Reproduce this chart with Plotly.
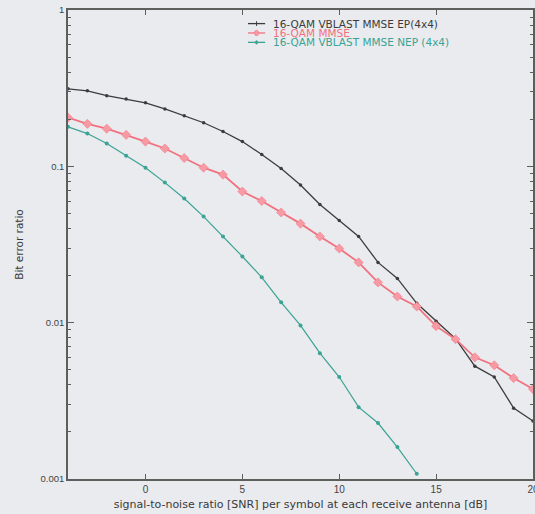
import plotly.graph_objects as go

# ---- data ----
snr_db = [-4, -3, -2, -1, 0, 1, 2, 3, 4, 5, 6, 7, 8, 9, 10, 11, 12, 13, 14, 15, 16, 17, 18, 19, 20]
ber_vblast_ep = [0.313, 0.304, 0.283, 0.270, 0.255, 0.233, 0.211, 0.190, 0.167, 0.144, 0.119, 0.097,
                 0.076, 0.057, 0.045, 0.0356, 0.0243, 0.0192, 0.0133, 0.0102, 0.0079, 0.00527,
                 0.00449, 0.00284, 0.00235]
ber_mmse = [0.205, 0.187, 0.174, 0.159, 0.144, 0.130, 0.113, 0.098, 0.0885, 0.069, 0.060, 0.0507,
            0.043, 0.0356, 0.0298, 0.0243, 0.0181, 0.0147, 0.0127, 0.0095, 0.00784, 0.0060,
            0.00534, 0.00442, 0.00376]
snr_db_nep = [-4, -3, -2, -1, 0, 1, 2, 3, 4, 5, 6, 7, 8, 9, 10, 11, 12, 13, 14]
ber_vblast_nep = [0.179, 0.162, 0.140, 0.117, 0.098, 0.0787, 0.0622, 0.0477, 0.0356, 0.0265, 0.0195,
                  0.0135, 0.0096, 0.00638, 0.00449, 0.00288, 0.00228, 0.0016, 0.00108]

series_names = ["16-QAM VBLAST MMSE EP(4x4)", "16-QAM MMSE", "16-QAM VBLAST MMSE NEP (4x4)"]
y_tick_vals = [0.001, 0.01, 0.1, 1]
y_tick_text = ["0.001", "0.01", "0.1", "1"]
x_tick_vals = [0, 5, 10, 15, 20]
x_tick_text = ["0", "5", "10", "15", "20"]
x_title = "signal-to-noise ratio [SNR] per symbol at each receive antenna [dB]"
y_title = "Bit error ratio"

# ---- styles ----
BG = "#e9ebef"
AXIS = "#5b605c"
C_EP = "#3c3c3c"
C_MMSE = "#f2717f"
C_MMSE_MK = "#f79aa4"
C_NEP = "#3aa394"
FONT = "Liberation Sans, Arial, sans-serif"
FONT_WIDE = "DejaVu Sans, Liberation Sans, sans-serif"

fig = go.Figure()
fig.add_trace(go.Scatter(x=snr_db, y=ber_vblast_ep, mode="lines+markers", name=series_names[0],
                         line=dict(color=C_EP, width=1.3),
                         marker=dict(symbol="circle", size=3.5, color=C_EP)))
fig.add_trace(go.Scatter(x=snr_db, y=ber_mmse, mode="lines+markers", name=series_names[1],
                         line=dict(color=C_MMSE, width=1.8),
                         marker=dict(symbol="diamond", size=7, color=C_MMSE_MK,
                                     line=dict(color=C_MMSE, width=0.5))))
fig.add_trace(go.Scatter(x=snr_db_nep, y=ber_vblast_nep, mode="lines+markers", name=series_names[2],
                         line=dict(color=C_NEP, width=1.2),
                         marker=dict(symbol="circle", size=4, color=C_NEP)))

# minor tick positions on the log axis (2..9 within each decade)
minor_vals = [m * 10 ** e for e in (-3, -2, -1) for m in range(2, 10)]

fig.update_layout(
    width=535, height=514,
    margin=dict(l=68, r=2, t=10, b=35),
    paper_bgcolor=BG, plot_bgcolor=BG,
    showlegend=False,
    font=dict(family=FONT, color="#333333", size=10),
    xaxis=dict(range=[-4, 20], showgrid=False, zeroline=False, automargin=False,
               showline=True, linecolor=AXIS, linewidth=1.5, mirror="allticks",
               ticks="inside", ticklen=5, tickcolor=AXIS, tickwidth=1,
               tickmode="array", tickvals=x_tick_vals, ticktext=x_tick_text,
               ticklabeloverflow="allow",
               tickfont=dict(size=10, color="#444444"),
               title=dict(text=x_title, font=dict(size=11, color="#3a3a3a", family=FONT_WIDE),
                          standoff=7)),
    yaxis=dict(type="log", range=[-3, 0], showgrid=False, zeroline=False, automargin=False,
               showline=True, linecolor=AXIS, linewidth=1.5, mirror="allticks",
               ticks="inside", ticklen=6, tickcolor=AXIS, tickwidth=1,
               tickmode="array", tickvals=y_tick_vals, ticktext=y_tick_text,
               tickfont=dict(size=9.5, color="#444444"),
               minor=dict(tickmode="array", tickvals=minor_vals, ticks="inside",
                          ticklen=3, tickcolor=AXIS, showgrid=False),
               title=dict(text=y_title, font=dict(size=10.5, color="#3a3a3a", family=FONT_WIDE),
                          standoff=15)),
)

# legend drawn as layout decorations (paper coordinates)
legend_rows = [0.971, 0.951, 0.931]
legend_colors = [C_EP, C_MMSE, C_NEP]
for name, yy, col in zip(series_names, legend_rows, legend_colors):
    fig.add_shape(type="line", xref="paper", yref="paper", x0=0.387, x1=0.424, y0=yy, y1=yy,
                  line=dict(color=col, width=1.3))
    fig.add_annotation(xref="paper", yref="paper", x=0.437, y=yy, xanchor="left", yanchor="middle",
                       text=name, showarrow=False, font=dict(size=10.5, color=col, family=FONT_WIDE))
# legend sample markers
fig.add_shape(type="circle", xref="paper", yref="paper", x0=0.401, x1=0.410,
              y0=legend_rows[1] - 0.006, y1=legend_rows[1] + 0.006,
              fillcolor=C_MMSE_MK, line=dict(color=C_MMSE, width=0.5))
fig.add_shape(type="circle", xref="paper", yref="paper", x0=0.403, x1=0.408,
              y0=legend_rows[2] - 0.004, y1=legend_rows[2] + 0.004,
              fillcolor=C_NEP, line=dict(color=C_NEP, width=0.5))
fig.add_shape(type="line", xref="paper", yref="paper", x0=0.4055, x1=0.4055,
              y0=legend_rows[0] - 0.005, y1=legend_rows[0] + 0.005,
              line=dict(color=C_EP, width=1))

fig.write_html("out.html")
